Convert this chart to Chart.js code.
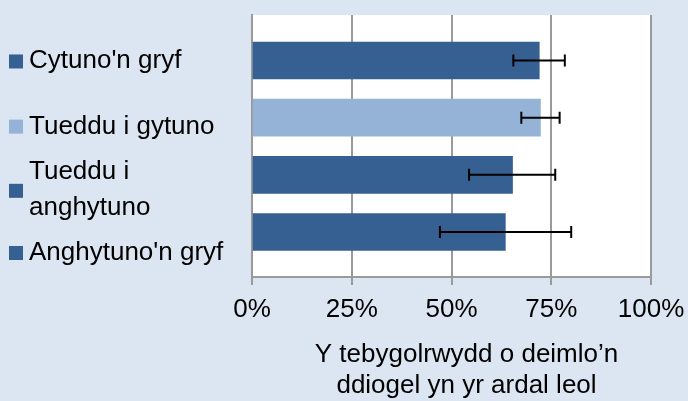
<!DOCTYPE html>
<html>
<head>
<meta charset="utf-8">
<script src="https://cdn.jsdelivr.net/npm/chart.js@4/dist/chart.umd.min.js"></script>
<style>
  html, body { margin: 0; padding: 0; background: #dce6f2; }
  #wrap { width: 688px; height: 401px; position: relative; }
</style>
</head>
<body>
<div id="wrap"><canvas id="chart"></canvas></div>
<script>
// data
const categories = ["Cytuno'n gryf", "Tueddu i gytuno", ["Tueddu i", "anghytuno"], "Anghytuno'n gryf"];
const values = [72.0, 72.3, 65.3, 63.5];
const errLow = [65.5, 67.5, 54.4, 47.1];
const errHigh = [78.4, 77.1, 76.0, 80.0];
const xTicks = [0, 25, 50, 75, 100];
const axisTitle = ["Y tebygolrwydd o deimlo\u2019n", "ddiogel yn yr ardal leol"];

const DARK = "#376092";
const LIGHT = "#95b3d7";
const barColors = [DARK, LIGHT, DARK, DARK];
const BG = "#dce6f2";
const GRID = "#9a9a9a";
const FONT = "'Liberation Sans', Arial, sans-serif";

// where the category labels sit relative to their bar (px)
const labelShift = [8, 16, 23, 28];

const bgPlugin = {
    id: "bg",
    beforeDraw(chart) {
        const ctx = chart.ctx
        const a = chart.chartArea
        ctx.save()
        ctx.fillStyle = BG
        ctx.fillRect(0, 0, chart.width, chart.height)
        ctx.fillStyle = "#ffffff"
        ctx.fillRect(a.left, a.top, a.right - a.left, a.bottom - a.top)
        ctx.restore()
    }
}

const errorBars = {
    id: "errorBars",
    afterDatasetsDraw(chart) {
        const ctx = chart.ctx
        const xs = chart.scales.x
        const ys = chart.scales.y
        ctx.save()
        ctx.strokeStyle = "#000"
        ctx.lineWidth = 2
        values.forEach((v, i) => {
            const y = ys.getPixelForValue(i)
            const x1 = xs.getPixelForValue(errLow[i])
            const x2 = xs.getPixelForValue(errHigh[i])
            ctx.beginPath()
            ctx.moveTo(x1, y); ctx.lineTo(x2, y)
            ctx.moveTo(x1, y - 6); ctx.lineTo(x1, y + 6)
            ctx.moveTo(x2, y - 6); ctx.lineTo(x2, y + 6)
            ctx.stroke()
        })
        ctx.restore()
    }
}

const sideLabels = {
    id: "sideLabels",
    afterDraw(chart) {
        const ctx = chart.ctx
        const ys = chart.scales.y
        const xs = chart.scales.x
        ctx.save()
        ctx.font = `26px ${FONT}`
        ctx.fillStyle = "#000"
        ctx.textAlign = "left"
        ctx.textBaseline = "alphabetic"
        categories.forEach((c, i) => {
            const base = ys.getPixelForValue(i) + labelShift[i]
            ctx.fillStyle = barColors[i]
            ctx.fillRect(9, base - 14, 14, 14)
            ctx.fillStyle = "#000"
            if (Array.isArray(c)) {
                ctx.fillText(c[0], 29, base - 19)
                ctx.fillText(c[1], 29, base + 17)
            } else {
                ctx.fillText(c, 29, base)
            }
        })
        // axis title
        ctx.textAlign = "center"
        const cx = (xs.left + xs.right) / 2 + 15
        ctx.fillText(axisTitle[0], cx, 362)
        ctx.fillText(axisTitle[1], cx, 393)
        ctx.restore()
    }
}

const config = {
    type: "bar",
    data: {
        datasets: [{
            data: values.map((v, i) => ({ x: v, y: i })),
            backgroundColor: barColors,
            borderWidth: 0,
            barThickness: 37,
        }]
    },
    options: {
        indexAxis: "y",
        responsive: false,
        animation: false,
        layout: { padding: { top: 15, right: 37, left: 0, bottom: 0 } },
        plugins: {
            legend: { display: false },
            tooltip: { enabled: false },
        },
        scales: {
            x: {
                type: "linear",
                min: 0,
                max: 100,
                afterBuildTicks: (s) => { s.ticks = xTicks.map(v => ({ value: v })) },
                afterFit: (s) => { s.height = 124; s.paddingLeft = 0; s.paddingRight = 0 },
                ticks: {
                    callback: (v) => v + "%",
                    color: "#000",
                    font: { family: FONT, size: 26 },
                    padding: 9,
                    maxRotation: 0,
                },
                grid: { color: GRID, lineWidth: 2, tickLength: 8 },
                border: { color: GRID, width: 2 },
            },
            y: {
                type: "linear",
                min: -0.795,
                max: 3.787,
                reverse: true,
                offset: false,
                afterFit: (s) => { s.width = 252 },
                ticks: { display: false },
                grid: { display: false, offset: false },
                border: { color: GRID, width: 2 },
            }
        }
    },
    plugins: [bgPlugin, errorBars, sideLabels]
}

const canvas = document.getElementById("chart")
canvas.width = 688
canvas.height = 401
new Chart(canvas.getContext("2d"), config)
</script>
</body>
</html>
